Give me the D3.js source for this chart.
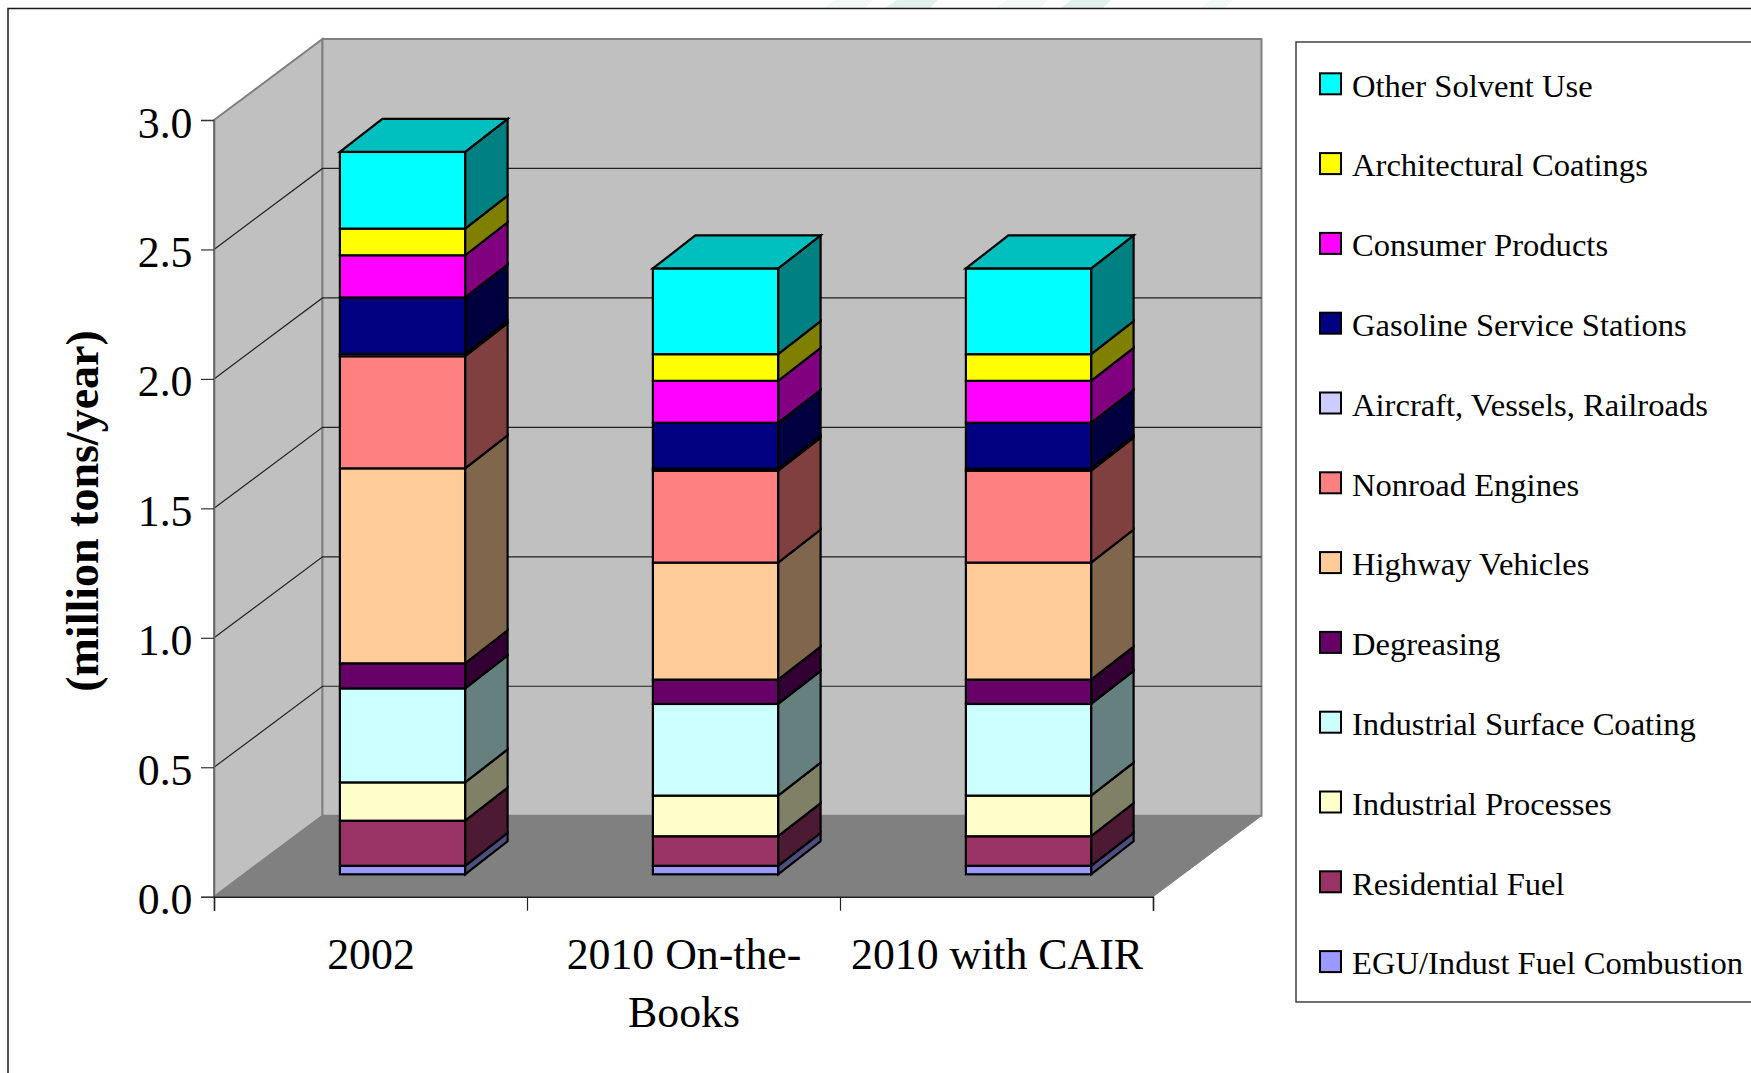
<!DOCTYPE html>
<html>
<head>
<meta charset="utf-8">
<script src="https://cdn.jsdelivr.net/npm/d3@7"></script>
<style>
  html, body { margin: 0; background: #fff; }
  svg { display: block; }
  text { font-family: "Liberation Serif", serif; fill: #000; }
</style>
</head>
<body>
<svg></svg>
<script>
// ================= DATA (million tons/year) =================== //
const categories = ["2002", "2010 On-the-Books", "2010 with CAIR"];
const categoryLines = [["2002"], ["2010 On-the-", "Books"], ["2010 with CAIR"]];

// stacked bottom to top, the legend reads the other way
const sectors = ["EGU/Indust Fuel Combustion", "Residential Fuel", "Industrial Processes",
  "Industrial Surface Coating", "Degreasing", "Highway Vehicles", "Nonroad Engines",
  "Aircraft, Vessels, Railroads", "Gasoline Service Stations", "Consumer Products",
  "Architectural Coatings", "Other Solvent Use"];
const sectorColors = ["#9999ff", "#993366", "#ffffcc", "#ccffff", "#660066", "#ffcc99",
  "#ff8080", "#ccccff", "#000080", "#ff00ff", "#ffff00", "#00ffff"];

const values2002 = [0.033, 0.174, 0.148, 0.363, 0.097, 0.753, 0.433, 0.009, 0.218, 0.163, 0.103, 0.296];
const valuesOnBooks = [0.033, 0.114, 0.157, 0.354, 0.094, 0.452, 0.355, 0.008, 0.177, 0.162, 0.103, 0.331];
const valuesCair = [0.033, 0.114, 0.157, 0.354, 0.094, 0.452, 0.355, 0.008, 0.177, 0.162, 0.103, 0.331];
const yTicks = [0, 0.5, 1, 1.5, 2, 2.5, 3];

// ================= CONSTANTS =================== //
const width = 1751;
const height = 1073;
const FONT_BIG = 43.8;
const FONT_LEGEND = 32.6;

// box depth: walls, offset of the bars from the front edge, depth of one bar
const wallDx = 108.5, wallDy = 81;
const barDx = 32, barDy = 22.4;
const sideDx = 42.5, sideDy = 33;

const svg = d3.select("svg").attr("width", width).attr("height", height);

const x = d3.scaleBand().domain(categories).range([214, 1153]).paddingInner(0.6).paddingOuter(0.3);
const xEdges = d3.scalePoint().domain(d3.range(categories.length + 1)).range(x.range());
const y = d3.scaleLinear().domain([0, 3]).range([896.7, 120]);

const rows = categories.map((c, i) => {
  const row = {category: c};
  const vals = [values2002, valuesOnBooks, valuesCair][i];
  sectors.forEach((s, j) => { row[s] = vals[j]; });
  return row;
});
const stacked = d3.stack().keys(sectors)(rows);
const color = d3.scaleOrdinal().domain(sectors).range(sectorColors);
const poly = pts => pts.map(p => p.join(",")).join(" ");

// ================= PAGE FRAME =================== //
const watermark = [[823, 865], [885, 930], [995, 1040], [1060, 1103], [1200, 1225]];
svg.selectAll(".wm").data(watermark).join("polygon")
  .attr("points", d => poly([[d[0], 8], [d[0] + 12, 0], [d[1] + 8, 0], [d[1], 8]]))
  .attr("fill", (d, i) => i % 2 ? "#e2f0ed" : "#f2f8f5");

svg.append("rect").attr("x", 8).attr("y", 8.5).attr("width", width + 20).attr("height", height + 20)
  .attr("fill", "#fff").attr("stroke", "#1a1a1a").attr("stroke-width", 1.5);

// ================= 3D BOX =================== //
const [x0, x1] = x.range();
const yBottom = y(0), yTop = y(3);

svg.append("polygon") // side wall
  .attr("points", poly([[x0, yTop], [x0 + wallDx, yTop - wallDy], [x0 + wallDx, yBottom - wallDy], [x0, yBottom]]))
  .attr("fill", "#c0c0c0").attr("stroke", "#808080").attr("stroke-width", 2);
svg.append("polygon") // back wall
  .attr("points", poly([[x0 + wallDx, yTop - wallDy], [x1 + wallDx, yTop - wallDy], [x1 + wallDx, yBottom - wallDy], [x0 + wallDx, yBottom - wallDy]]))
  .attr("fill", "#c0c0c0").attr("stroke", "#808080").attr("stroke-width", 2);

svg.append("g").selectAll("polyline").data(yTicks.filter(t => t > 0 && t < 3)).join("polyline")
  .attr("points", d => poly([[x0, y(d)], [x0 + wallDx, y(d) - wallDy], [x1 + wallDx, y(d) - wallDy]]))
  .attr("fill", "none").attr("stroke", "#222").attr("stroke-width", 1.2);

svg.append("polygon") // floor
  .attr("points", poly([[x0, yBottom], [x0 + wallDx, yBottom - wallDy], [x1 + wallDx, yBottom - wallDy], [x1, yBottom]]))
  .attr("fill", "#808080").attr("stroke", "#808080").attr("stroke-width", 1);

// ================= AXES =================== //
const yAxis = svg.append("g").attr("transform", `translate(${x0},0)`)
  .call(d3.axisLeft(y).tickValues(yTicks).tickFormat(d3.format(".1f")).tickSize(13));
yAxis.select(".domain").attr("stroke", "#666").attr("stroke-width", 1.5);
yAxis.selectAll("line").attr("stroke", "#333").attr("stroke-width", 1.2);
yAxis.selectAll("text").attr("x", -21.5).attr("dy", 17).attr("font-size", FONT_BIG)
  .attr("font-family", "Liberation Serif").attr("fill", "#000");

const xAxis = svg.append("g").attr("transform", `translate(0,${yBottom})`)
  .call(d3.axisBottom(xEdges).tickSize(14).tickFormat(""));
xAxis.select(".domain").attr("stroke", "#222").attr("stroke-width", 1.5);
xAxis.selectAll("line").attr("stroke", "#222").attr("stroke-width", 1.2);

const catLabels = svg.append("g").selectAll("text").data(categories).join("text")
  .attr("text-anchor", "middle").attr("font-size", FONT_BIG)
  .attr("transform", d => `translate(${x(d) + x.bandwidth() / 2 + 0.5},968.5)`);
catLabels.selectAll("tspan").data((d, i) => categoryLines[i]).join("tspan")
  .attr("x", 0).attr("y", (d, i) => i * 58.3).text(d => d);

svg.append("text").attr("font-weight", "bold").attr("font-size", 46).attr("text-anchor", "middle")
  .attr("transform", "translate(98,511) rotate(-90)").text("(million tons/year)");

// ================= BARS =================== //
const faces = svg.append("g").attr("stroke", "#000").attr("stroke-width", 2.2).attr("stroke-linejoin", "miter");
const shade = (c, k) => { const r = d3.rgb(c); return d3.rgb(r.r * k, r.g * k, r.b * k).formatHex(); };

categories.forEach((cat, i) => {
  const left = x(cat) + barDx;
  const right = left + x.bandwidth();
  const bar = faces.append("g");

  stacked.forEach(layer => {
    const [v0, v1] = layer[i];
    const yLow = y(v0) - barDy, yHigh = y(v1) - barDy;
    const c = color(layer.key);

    bar.append("polygon") // right side
      .attr("points", poly([[right, yLow], [right + sideDx, yLow - sideDy], [right + sideDx, yHigh - sideDy], [right, yHigh]]))
      .attr("fill", shade(c, 0.5));
    bar.append("rect")
      .attr("x", left).attr("y", yHigh)
      .attr("width", right - left).attr("height", yLow - yHigh)
      .attr("fill", c);
  });

  // top face takes the colour of the last layer
  const topLayer = stacked[stacked.length - 1];
  const yT = y(topLayer[i][1]) - barDy;
  bar.append("polygon")
    .attr("points", poly([[left, yT], [left + sideDx, yT - sideDy], [right + sideDx, yT - sideDy], [right, yT]]))
    .attr("fill", shade(color(topLayer.key), 0.75));
});

// ================= LEGEND =================== //
svg.append("rect").attr("x", 1296).attr("y", 42).attr("width", 500).attr("height", 960)
  .attr("fill", "#fff").attr("stroke", "#333").attr("stroke-width", 1.4);

const legendOrder = sectors.slice().reverse();
const legendY = d3.scalePoint().domain(legendOrder).range([83.8, 961.6]);

const legend = svg.append("g").selectAll("g").data(legendOrder).join("g")
  .attr("transform", d => `translate(1320,${legendY(d)})`);
legend.append("rect").attr("x", 0).attr("y", -10.5).attr("width", 21).attr("height", 21)
  .attr("fill", d => color(d)).attr("stroke", "#000").attr("stroke-width", 2);
legend.append("text").attr("x", 32).attr("y", 12.8).attr("font-size", FONT_LEGEND).text(d => d);
</script>
</body>
</html>
